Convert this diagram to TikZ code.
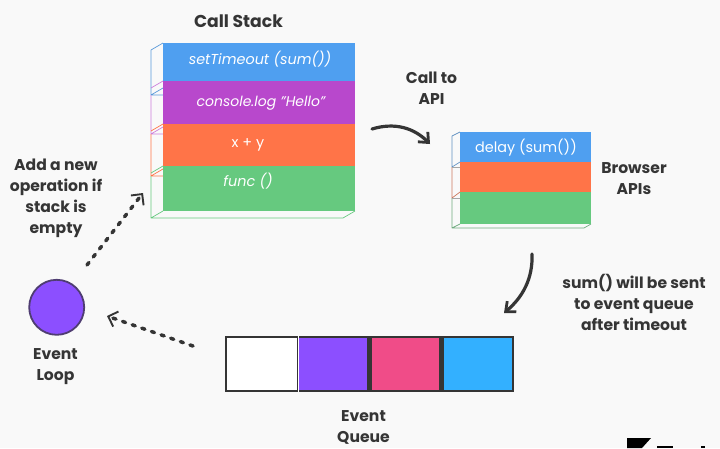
\documentclass[tikz,border=0pt]{standalone}
\usepackage{fontspec}
\setmainfont{Poppins}
\usetikzlibrary{arrows.meta}
\definecolor{bgc}{HTML}{F9F9F9}
\definecolor{inkc}{HTML}{353535}
\definecolor{sblue}{HTML}{4F9FF0}
\definecolor{spurple}{HTML}{B848CC}
\definecolor{sorange}{HTML}{FF7448}
\definecolor{sgreen}{HTML}{66C97F}
\definecolor{qpurple}{HTML}{8C4FFF}
\definecolor{qpink}{HTML}{F04C88}
\definecolor{qblue}{HTML}{33B0FF}
\tikzset{
  lbl/.style={font=\fontsize{15.6}{21}\selectfont\bfseries, text=inkc, align=center, inner sep=0pt},
  lblwide/.style={font=\fontsize{17.2}{21}\selectfont\bfseries, text=inkc, align=center, inner sep=0pt},
  cell/.style={font=\fontsize{14.4}{17}\selectfont, text=white, inner sep=0pt},
  layer/.style={draw=none, minimum width=#1, inner sep=0pt, anchor=north west},
  qcell/.style={draw=none, minimum height=52pt, inner sep=0pt, anchor=north west},
  solidarrow/.style={draw=inkc, line width=3.2pt, line cap=round, -{Straight Barb[length=8pt,width=14pt,line width=2.8pt]}},
  dotarrow/.style={draw=inkc, line width=3.5pt, dash pattern=on 3.2pt off 7pt, line cap=round, -{Straight Barb[length=8pt,width=16pt,line width=1.9pt,line cap=butt]}},
  edge/.style={line width=.7pt, line join=round}
}
\begin{document}
\begin{tikzpicture}[x=1pt,y=-1pt]
\useasboundingbox (0,0) rectangle (720,448);
\fill[bgc] (0,0) rectangle (720,448);
% call stack: back edges
\draw[edge,sblue!80!gray] (163,43) -- (151,50) -- (151,95) -- (163,95) (151,95) -- (163,88);
\draw[edge,spurple!70!white] (163,81) -- (151,88) (151,95) -- (151,134) -- (163,134) (151,134) -- (163,127);
\draw[edge,sorange] (163,124) -- (151,131) (151,134) -- (151,176) -- (163,176) (151,176) -- (163,169);
\draw[edge,sgreen] (163,166) -- (151,173) (151,176) -- (151,218) -- (343,218) -- (355,211) (151,218) -- (163,211);
\node[layer=192pt, minimum height=38pt, fill=sblue] (s1) at (163,43) {};
\node[layer=192pt, minimum height=43pt, fill=spurple] (s2) at (163,81) {};
\node[layer=192pt, minimum height=42pt, fill=sorange] (s3) at (163,124) {};
\node[layer=192pt, minimum height=45pt, fill=sgreen] (s4) at (163,166) {};
\node[cell] (t1) at (260,59.5) {\itshape setTimeout (sum())};
\node[cell] (t2) at (261,103) {\fontsize{14}{17}\selectfont\itshape console.log "Hello"};
\node[cell] (t3) at (248,145) {x + y};
\node[cell] (t4) at (248,181) {\itshape func ()};
% browser APIs
\draw[edge,sblue!60!gray] (460,132) -- (452,136) -- (452,167) -- (460,162);
\draw[edge,sorange!60!gray] (452,167) -- (452,198) -- (460,192);
\draw[edge,sgreen!60!gray] (452,198) -- (452,228) -- (584,228) -- (591,224) (452,228) -- (460,224);
\draw[edge,gray!70] (452,167) -- (460,167) (452,198) -- (460,198);
\node[layer=131pt, minimum height=30pt, fill=sblue] (b1) at (460,132) {};
\node[layer=131pt, minimum height=30pt, fill=sorange] (b2) at (460,162) {};
\node[layer=131pt, minimum height=32pt, fill=sgreen] (b3) at (460,192) {};
\node[cell] (t5) at (526,147.5) {delay (sum())};
% queue
\node[fill=inkc, minimum width=289pt, minimum height=56pt, inner sep=0pt, anchor=north west] (qframe) at (225,336) {};
\node[qcell, fill=white, minimum width=70pt] (q1) at (226.5,338) {};
\node[qcell, fill=qpurple, minimum width=68pt] (q2) at (299,338) {};
\node[qcell, fill=qpink, minimum width=67.5pt] (q3) at (371.5,338) {};
\node[qcell, fill=qblue, minimum width=68pt] (q4) at (444,338) {};
\draw[white, line width=.6pt] (q1.north east) ++(1.3,-2) -- ++(0,56);
% event loop
\node[circle, draw=inkc!70!qpurple, line width=1.8pt, fill=qpurple, minimum size=55pt, inner sep=0pt] (loop) at (56.7,307.3) {};
% labels
\node[lblwide] (l1) at (238.5,21) {Call Stack};
\node[lbl] (l2) at (431.5,88) {Call to\\API};
\node[lbl] (l3) at (634,178.5) {Browser\\APIs};
\node[lbl] (l4) at (634,302.5) {sum() will be sent\\to event queue\\after timeout};
\node[lbl] (l5) at (363.5,427.5) {Event\\Queue};
\node[lbl] (l6) at (55.5,367) {Event\\Loop};
\node[lbl] (l7) at (56,198.5) {Add a new\\operation if\\stack is\\empty};
% connectors
\coordinate (a1s) at (372,129);
\coordinate (a1e) at (430,144);
\draw[solidarrow] (a1s) .. controls (395,122) and (414,128) .. (a1e);
\coordinate (a2s) at (532,254);
\coordinate (a2e) at (504,313);
\draw[solidarrow] (a2s) .. controls (533,278) and (523,297) .. (a2e);
\coordinate (a3s) at (87,265);
\coordinate (a3e) at (143,193);
\draw[dotarrow] (a3s) -- (a3e);
\coordinate (a4s) at (193,346);
\coordinate (a4e) at (107,316);
\draw[dotarrow] (a4s) -- (a4e);
% cut-off logo
\fill[black] (627,448) -- (627,438) -- (651,438) -- (642,448) -- cycle;
\fill[black] (657,446) rectangle (673,448);
\fill[black] (701,446) rectangle (705,448);
\end{tikzpicture}
\end{document}
